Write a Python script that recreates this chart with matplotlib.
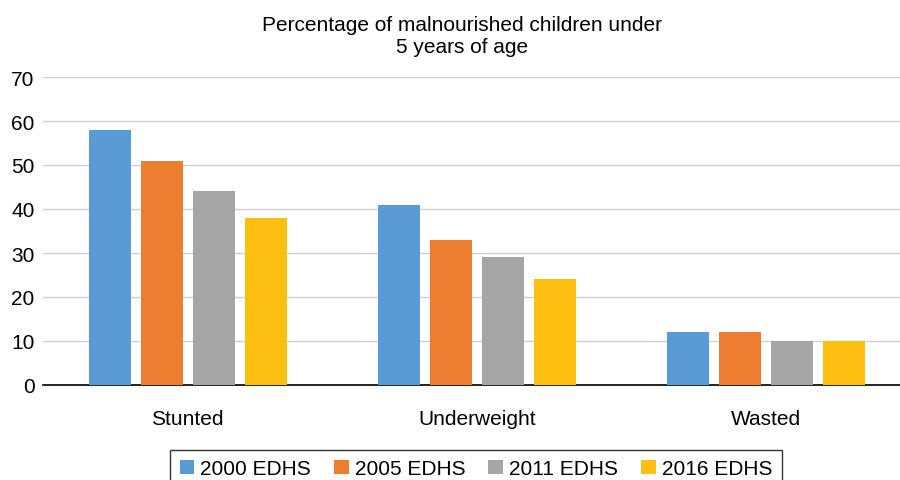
import matplotlib
matplotlib.use("Agg")
from matplotlib import pyplot as plt
import numpy as np

plt.rcParams['font.family'] = ['Liberation Sans', 'DejaVu Sans']

categories = ['Stunted', 'Underweight', 'Wasted']
surveys = ['2000 EDHS', '2005 EDHS', '2011 EDHS', '2016 EDHS']
values = {
    '2000 EDHS': [58, 41, 12],
    '2005 EDHS': [51, 33, 12],
    '2011 EDHS': [44, 29, 10],
    '2016 EDHS': [38, 24, 10],
}
colors = ['#5b9bd5', '#ed7d31', '#a5a5a5', '#fdbf12']
yticks = [0, 10, 20, 30, 40, 50, 60, 70]

fig = plt.figure(figsize=(9, 4.81), dpi=100)
ax = fig.add_axes([43 / 900, 95 / 481, 868 / 900, 308 / 481])

x = np.arange(len(categories))
width = 0.145
step = 0.18
for i, (name, col) in enumerate(zip(surveys, colors)):
    ax.bar(x + (i - 1.5) * step, values[name], width, color=col, label=name, zorder=3)

ax.set_xlim(-0.5, 2.5)
ax.set_ylim(0, 70)
ax.set_yticks(yticks)
ax.set_xticks(x)
ax.set_xticklabels(categories, fontsize=15)
ax.tick_params(axis='y', labelsize=15, length=0, pad=6)
ax.tick_params(axis='x', length=0, pad=17)
ax.grid(axis='y', color='#d0d0d0', linewidth=1, zorder=0)
for s in ['top', 'right', 'left']:
    ax.spines[s].set_visible(False)
ax.spines['bottom'].set_color('black')
ax.spines['bottom'].set_linewidth(1.2)

fig.text(462 / 900, 1 - 37 / 481, 'Percentage of malnourished children under\n5 years of age',
         ha='center', va='center', fontsize=15, linespacing=1.2)

leg = fig.legend(loc='upper center', bbox_to_anchor=(476 / 900, 1 - 451 / 481), ncol=4,
                 fontsize=15, frameon=True, fancybox=False, handlelength=0.7,
                 handleheight=0.7, handletextpad=0.3, columnspacing=1.1,
                 borderpad=0.45, borderaxespad=0)
leg.get_frame().set_edgecolor('black')
leg.get_frame().set_linewidth(1)

fig.savefig('out.png', dpi=100)
